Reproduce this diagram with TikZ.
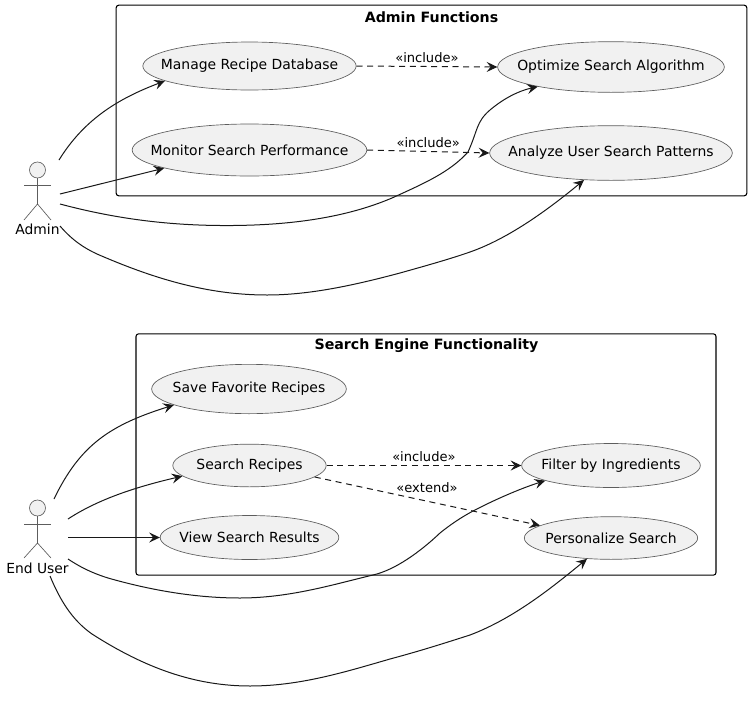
\documentclass[tikz,border=0pt]{standalone}
\usepackage{fontspec}
\setmainfont{DejaVu Sans}
\usetikzlibrary{arrows.meta}
\usetikzlibrary{shapes.geometric}
\usetikzlibrary{positioning,calc}
\definecolor{usefill}{HTML}{F1F1F1}
\definecolor{useline}{HTML}{181818}
\tikzset{
    usecase/.style={
           ellipse,
           draw=useline!70, line width=0.5pt,
           fill=usefill,
           inner ysep=0pt,
           inner xsep=-30pt,
           text centered,
           font=\fontsize{10.45}{12}\selectfont,
           },
    frame/.style={
           rectangle,
           rounded corners=2pt,
           draw=black, line width=0.8pt,
           },
    title/.style={
           font=\fontsize{10.65}{12}\selectfont\bfseries,
           },
    actorname/.style={
           font=\fontsize{10.4}{12}\selectfont,
           },
    head/.style={
           circle,
           draw=useline!70, line width=0.5pt,
           fill=usefill,
           minimum size=12pt,
           inner sep=0pt,
           },
    limb/.style={
           draw=useline!70, line width=0.5pt,
           },
    assoc/.style={
           draw=useline, line width=0.75pt,
           -{Stealth[length=8pt,width=7.5pt,inset=3pt]},
           },
    dep/.style={
           assoc,
           dash pattern=on 4.5pt off 3.5pt,
           },
    stereo/.style={
           font=\fontsize{9.8}{11}\selectfont,
           },
}

\begin{document}
\begin{tikzpicture}
[
x=0.75pt,y=-0.75pt
]
 \useasboundingbox (0,0) rectangle (751,722);

 % FRAMES
 \node[frame,minimum width=473pt,minimum height=143pt] (ADMINFRAME) at (431.5,100.5) {};
 \node[title] (ADMINTITLE) at (431.5,17.5) {Admin Functions};
 \node[frame,minimum width=435pt,minimum height=181pt] (SEARCHFRAME) at (426,454.5) {};
 \node[title] (SEARCHTITLE) at (426.5,345.5) {Search Engine Functionality};

 % STATES ADMIN
 \node[usecase,minimum width=160pt,minimum height=36pt] (MANAGE) at (249.5,66) {Manage Recipe Database};
 \node[usecase,minimum width=176pt,minimum height=39pt] (MONITOR) at (249.5,150) {Monitor Search Performance};
 \node[usecase,minimum width=170pt,minimum height=38pt] (OPTIMIZE) at (611,67) {Optimize Search Algorithm};
 \node[usecase,minimum width=182pt,minimum height=41pt] (ANALYZE) at (611,153) {Analyze User Search Patterns};

 % STATES END USER
 \node[usecase,minimum width=146pt,minimum height=37pt] (SAVE) at (249,389) {Save Favorite Recipes};
 \node[usecase,minimum width=115pt,minimum height=32pt] (RECIPES) at (249.5,465.5) {Search Recipes};
 \node[usecase,minimum width=134pt,minimum height=33pt] (VIEW) at (249.5,537.5) {View Search Results};
 \node[usecase,minimum width=134pt,minimum height=33pt] (FILTER) at (611,465.5) {Filter by Ingredients};
 \node[usecase,minimum width=130pt,minimum height=32pt] (PERSONALIZE) at (611,538) {Personalize Search};

 % ACTOR ADMIN
 \node[head] (ADMINHEAD) at (37.5,170) {};
 \node[actorname] (ADMIN) at (37.5,229) {Admin};
 \coordinate (ADMINHIP) at (37.5,204);
 \draw[limb] (ADMINHEAD) -- (ADMINHIP);
 \draw[limb] (24,185) -- (51,185);
 \draw[limb] (24,220) -- (ADMINHIP) -- (51,220);
 \coordinate (ADMINA) at (59,160);
 \coordinate (ADMINB) at (60,194);
 \coordinate (ADMINC) at (60,204);
 \coordinate (ADMIND) at (60,226);

 % ACTOR END USER
 \node[head] (USERHEAD) at (37.5,508) {};
 \node[actorname] (USER) at (37.5,568) {End User};
 \coordinate (USERHIP) at (37.5,543);
 \draw[limb] (USERHEAD) -- (USERHIP);
 \draw[limb] (24,524) -- (51,524);
 \draw[limb] (24,558) -- (USERHIP) -- (51,558);
 \coordinate (USERA) at (54,499);
 \coordinate (USERB) at (68,519);
 \coordinate (USERC) at (68,537.5);
 \coordinate (USERD) at (68,559);
 \coordinate (USERE) at (50,576);

 % draw the paths
 \draw[assoc] (ADMINA) .. controls (85,118) and (120,98) .. (MANAGE.190);
 \draw[assoc] (ADMINB) -- (MONITOR.192);
 \draw[assoc] (ADMINC) .. controls (120,220) and (175,226) .. (233,225.5)
   .. controls (290,225) and (345,218) .. (392,198)
   .. controls (425,183) and (450,172) .. (468,152)
   .. controls (478,130) and (476,122) .. (490,110)
   .. controls (503,99) and (518,91) .. (OPTIMIZE.195);
 \draw[assoc] (ADMIND) .. controls (72,240) and (84,248) .. (97,254)
   .. controls (150,277) and (205,295) .. (267,295)
   .. controls (310,295) and (355,285) .. (400,273)
   .. controls (425,266) and (450,259) .. (470,252)
   .. controls (510,238) and (550,208) .. (ANALYZE.225);

 \draw[assoc] (USERA) .. controls (80,445) and (110,425) .. (SAVE.192);
 \draw[assoc] (USERB) .. controls (100,498) and (140,486) .. (RECIPES.189);
 \draw[assoc] (USERC) -- (VIEW.west);
 \draw[assoc] (USERD) .. controls (80,567) and (92,573) .. (108,578)
   .. controls (150,590) and (195,598) .. (240,598)
   .. controls (290,598) and (335,584) .. (373,575)
   .. controls (395,570) and (420,552) .. (440,533)
   .. controls (450,525) and (460,518) .. (473,511)
   .. controls (500,497) and (525,487) .. (FILTER.193);
 \draw[assoc] (USERE) .. controls (60,600) and (72,620) .. (92,634)
   .. controls (145,668) and (195,686) .. (250,686)
   .. controls (300,686) and (345,672) .. (390,659)
   .. controls (420,651) and (445,643) .. (470,635)
   .. controls (515,618) and (555,585) .. (PERSONALIZE.221);

 \draw[dep] (MANAGE.east) -- node[stereo,above=-1pt] (INCA) {«include»} (OPTIMIZE.west);
 \draw[dep] (MONITOR.east) -- node[stereo,above=-1pt] (INCB) {«include»} (ANALYZE.west);
 \draw[dep] (RECIPES.east) -- node[stereo,above=-1pt] (INCC) {«include»} (FILTER.west);
 \draw[dep] (RECIPES.350) -- (PERSONALIZE.170);
 \node[stereo] (EXT) at (427,488) {«extend»};

\end{tikzpicture}
\end{document}
